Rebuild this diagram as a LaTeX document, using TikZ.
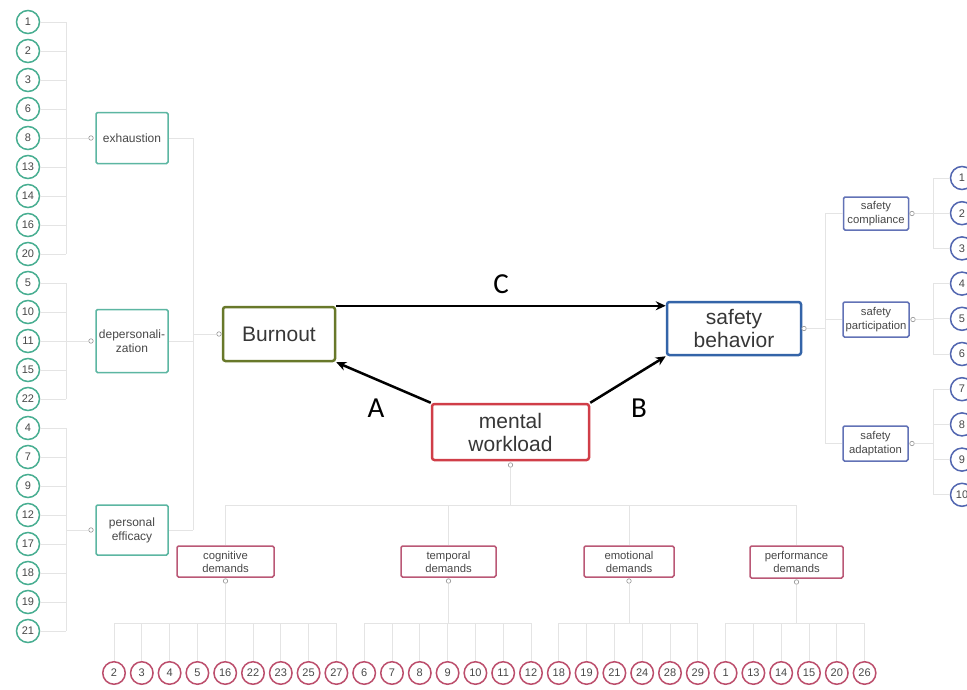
\documentclass[tikz,border=0pt]{standalone}
\usepackage{fontspec}
\setmainfont{Liberation Sans}
\newfontfamily\abcfont{Carlito}
\usetikzlibrary{arrows.meta,calc}
\definecolor{tealc}{RGB}{72,174,145}
\definecolor{tealbox}{RGB}{92,182,162}
\definecolor{pinkc}{RGB}{188,78,108}
\definecolor{pinkbox}{RGB}{186,88,118}
\definecolor{mwred}{RGB}{208,62,72}
\definecolor{olive}{RGB}{104,120,42}
\definecolor{sbblue}{RGB}{52,100,168}
\definecolor{blueb}{RGB}{98,114,182}
\definecolor{bluec}{RGB}{82,102,176}
\definecolor{txtgray}{RGB}{72,72,72}
\definecolor{linegray}{RGB}{228,228,228}
\definecolor{dotgray}{RGB}{150,150,150}
\begin{document}
\begin{tikzpicture}[x=1pt,y=-1pt,
  conn/.style={draw=linegray,line width=1pt},
  dotn/.style={circle,draw=dotgray,line width=0.6pt,minimum size=4.5pt,inner sep=0pt,fill=white},
  gcirc/.style={circle,draw=tealc,line width=1.5pt,minimum size=23pt,inner sep=0pt,fill=white,text=txtgray,font=\fontsize{11}{12}\selectfont},
  rcirc/.style={gcirc,draw=pinkc,minimum size=22.5pt},
  bcirc/.style={gcirc,draw=bluec,minimum size=23pt},
  gbox/.style={draw=tealbox,line width=1.5pt,rounded corners=1.5pt,align=center,inner sep=0pt,fill=white,text=txtgray,font=\fontsize{12}{14}\selectfont},
  pbox/.style={draw=pinkbox,line width=1.5pt,rounded corners=1.5pt,align=center,inner sep=0pt,fill=white,text=txtgray,font=\fontsize{11.3}{13}\selectfont},
  bbox/.style={draw=blueb,line width=1.5pt,rounded corners=1.5pt,align=center,inner sep=0pt,fill=white,text=txtgray,font=\fontsize{11.3}{13.5}\selectfont},
  mainbox/.style={line width=2.5pt,rounded corners=2.5pt,align=center,inner sep=0pt,fill=white,text={rgb,255:red,55;green,55;blue,55},font=\fontsize{21}{23}\selectfont},
  arr/.style={line width=2.5pt,black,-{Stealth[length=10pt,width=9pt]}},
  abc/.style={font=\abcfont\fontsize{29}{31}\selectfont,text=black}
]
\clip (0,0) rectangle (967,689);
\fill[white] (0,0) rectangle (967,689);

% ---------- left column ----------
\foreach \lab [count=\i from 0] in {1,2,3,6,8,13,14,16,20,5,10,11,15,22,4,7,9,12,17,18,19,21}{
  \coordinate (XJ\i) at (66,{22+29*\i});
  \node[gcirc] (L\i) at (28,{22+29*\i}) {\lab};
  \draw[conn] (L\i) -- (XJ\i);
}
\draw[conn] (XJ0) -- (XJ8);
\draw[conn] (XJ9) -- (XJ13);
\draw[conn] (XJ14) -- (XJ21);

\node[gbox,minimum width=72pt,minimum height=51pt] (exh) at (132,138) {exhaustion};
\node[gbox,minimum width=72pt,minimum height=63pt] (dep) at (132,341) {depersonali-\\zation};
\node[gbox,minimum width=72pt,minimum height=50pt] (eff) at (132,530) {personal\\efficacy};
\node[dotn] (exhd) at (91,138) {};
\node[dotn] (depd) at (91,341) {};
\node[dotn] (effd) at (91,530) {};
\coordinate (effJ) at (66,530);
\draw[conn] (XJ4) -- (exhd);
\draw[conn] (XJ11) -- (depd);
\draw[conn] (effJ) -- (effd);

\coordinate (YJ1) at (193,138);
\coordinate (YJ2) at (193,341);
\coordinate (YJ3) at (193,530);
\coordinate (YJ0) at (193,334);
\draw[conn] (exh) -- (YJ1);
\draw[conn] (dep) -- (YJ2);
\draw[conn] (eff) -- (YJ3);
\draw[conn] (YJ1) -- (YJ3);

% ---------- main boxes ----------
\node[mainbox,draw=olive,minimum width=112pt,minimum height=54pt] (bur) at (279,334) {Burnout};
\node[mainbox,draw=mwred,minimum width=157pt,minimum height=56pt] (mw) at (510.5,432) {mental\\workload};
\node[mainbox,draw=sbblue,minimum width=134pt,minimum height=53pt] (sb) at (734,328.5) {safety\\behavior};
\node[dotn] (burd) at (219,334) {};
\draw[conn] (YJ0) -- (burd);

\draw[arr] (bur.north east) -- (bur.north east -| sb.west);
\draw[arr] (mw.north west) -- (bur.south east);
\draw[arr] (mw.north east) -- (sb.south west);
\node[abc] (lC) at (501,284) {C};
\node[abc] (lA) at (376,408) {A};
\node[abc] (lB) at (639,408) {B};

% ---------- right side ----------
\node[dotn] (sbd) at (804,328.5) {};
\coordinate (SJ0) at (825,328.5);
\coordinate (SJ1) at (825,213.5);
\coordinate (SJ2) at (825,319.5);
\coordinate (SJ3) at (825,443.5);
\draw[conn] (sbd) -- (SJ0);
\draw[conn] (SJ1) -- (SJ3);
\node[bbox,minimum width=65pt,minimum height=33pt] (scomp) at (876,213.5) {safety\\compliance};
\node[bbox,minimum width=66pt,minimum height=35pt] (spart) at (876,319.5) {safety\\participation};
\node[bbox,minimum width=65pt,minimum height=35pt] (sadap) at (875.5,443.5) {safety\\adaptation};
\draw[conn] (SJ1) -- (scomp);
\draw[conn] (SJ2) -- (spart);
\draw[conn] (SJ3) -- (sadap);
\node[dotn] (scompd) at (912,213.5) {};
\node[dotn] (spartd) at (913,319.5) {};
\node[dotn] (sadapd) at (912,443.5) {};
\coordinate (TJ1) at (933,213.5);
\coordinate (TJ2) at (933,319.5);
\coordinate (TJ3) at (933,443.5);
\draw[conn] (scompd) -- (TJ1);
\draw[conn] (spartd) -- (TJ2);
\draw[conn] (sadapd) -- (TJ3);
\foreach \lab [count=\k from 0] in {1,2,3,4,5,6,7,8,9,10}{
  \coordinate (RK\k) at (933,{178+35.2*\k});
  \node[bcirc] (R\k) at (962,{178+35.2*\k}) {\lab};
  \draw[conn] (RK\k) -- (R\k);
}
\draw[conn] (RK0) -- (RK2);
\draw[conn] (RK3) -- (RK5);
\draw[conn] (RK6) -- (RK9);

% ---------- bottom ----------
\node[dotn] (mwd) at (510.5,465) {};
\coordinate (MJ) at (510.5,505);
\draw[conn] (mwd) -- (MJ);
\coordinate (DJ1) at (225.5,505);
\coordinate (DJ2) at (448.5,505);
\coordinate (DJ3) at (629,505);
\coordinate (DJ4) at (796.5,505);
\draw[conn] (DJ1) -- (DJ4);
\node[pbox,minimum width=97pt,minimum height=31pt] (cog) at (225.5,561.5) {cognitive\\demands};
\node[pbox,minimum width=95pt,minimum height=31pt] (tem) at (448.5,561.5) {temporal\\demands};
\node[pbox,minimum width=90pt,minimum height=31pt] (emo) at (629,561.5) {emotional\\demands};
\node[pbox,minimum width=93pt,minimum height=32pt] (per) at (796.5,562) {performance\\demands};
\draw[conn] (DJ1) -- (cog);
\draw[conn] (DJ2) -- (tem);
\draw[conn] (DJ3) -- (emo);
\draw[conn] (DJ4) -- (per);
\node[dotn] (cogd) at (225.5,581) {};
\node[dotn] (temd) at (448.5,581) {};
\node[dotn] (emod) at (629,581) {};
\node[dotn] (perd) at (796.5,582) {};
\coordinate (cogJ) at (225.5,623);
\coordinate (temJ) at (448.5,623);
\coordinate (emoJ) at (629,623);
\coordinate (perJ) at (796.5,623);
\draw[conn] (cogd) -- (cogJ);
\draw[conn] (temd) -- (temJ);
\draw[conn] (emod) -- (emoJ);
\draw[conn] (perd) -- (perJ);
\foreach \lab [count=\k from 0] in {2,3,4,5,16,22,23,25,27,6,7,8,9,10,11,12,18,19,21,24,28,29,1,13,14,15,20,26}{
  \coordinate (BJ\k) at ({114+27.8*\k},623);
  \node[rcirc] (B\k) at ({114+27.8*\k},673) {\lab};
  \draw[conn] (BJ\k) -- (B\k);
}
\draw[conn] (BJ0) -- (BJ8);
\draw[conn] (BJ9) -- (BJ15);
\draw[conn] (BJ16) -- (BJ21);
\draw[conn] (BJ22) -- (BJ27);
\end{tikzpicture}
\end{document}
